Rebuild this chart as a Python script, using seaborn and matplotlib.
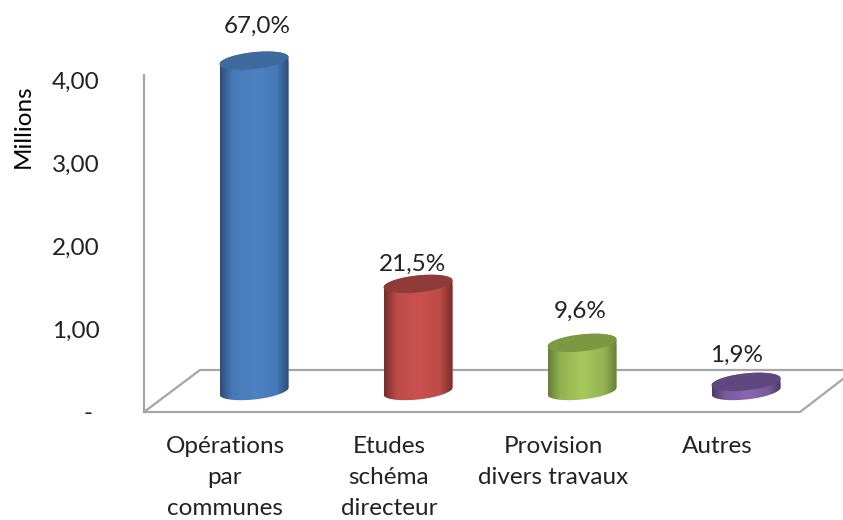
import matplotlib
matplotlib.use("Agg")
import matplotlib.pyplot as plt
import numpy as np
import seaborn as sns
from matplotlib.colors import LinearSegmentedColormap
from matplotlib.patches import Polygon
from matplotlib.path import Path

sns.set_style("white")
plt.rcParams["font.family"] = ["Lato", "DejaVu Sans"]

categories = ["Opérations\npar\ncommunes", "Etudes\nschéma\ndirecteur",
              "Provision\ndivers travaux", "Autres"]
values = [3.98, 1.29, 0.58, 0.11]
shares = ["67,0%", "21,5%", "9,6%", "1,9%"]
ytick_values = [0, 1, 2, 3, 4]
ytick_labels = ["- ", "1,00", "2,00", "3,00", "4,00"]

body_light = ["#4F82C3", "#CB524F", "#A6C95D", "#8A66B0"]
body_mid = ["#4579B8", "#BC4B48", "#93B251", "#7A5A9C"]
body_dark = ["#2F4E76", "#772E2C", "#66803A", "#4E3A68"]
top_colors = ["#3F6A9E", "#8F3B39", "#7C9842", "#5F4880"]
label_offsets = [(3, 34), (-5, 20), (-2, 32), (-9, 27)]

WIDTH, HEIGHT = 843, 520
AXIS_LEFT, FLOOR_Y = 144, 412
PX_PER_UNIT = 83
BAR_STEP = 164
FIRST_BAR = 254
BAR_WIDTH = 69
LABEL_SHIFT = 29 / BAR_STEP
BASE = 21 / PX_PER_UNIT  # cylinders stand in the middle of the floor
TILT = 3.5 / PX_PER_UNIT
MINOR = 8.5 / PX_PER_UNIT
TEXT_SIZE = 17.5
GREY = "#A6A6A6"


def px(x, y):
    return (x - FIRST_BAR) / BAR_STEP, (FLOOR_Y - y) / PX_PER_UNIT


def ellipse(cx, cy, a, start, stop):
    t = np.linspace(start, stop, 60)
    return np.column_stack([cx + a * np.cos(t), cy + MINOR * np.sin(t) + TILT * np.cos(t)])


def draw_cylinder(ax, bar, light, mid, dark, top):
    a = bar.get_width() / 2
    cx = bar.get_x() + a
    y0 = bar.get_y()
    y1 = y0 + bar.get_height()

    outline = np.vstack([ellipse(cx, y1, a, np.pi, 0), ellipse(cx, y0, a, 0, -np.pi)])
    body = Path(np.vstack([outline, outline[:1]]))
    bar.set_clip_path(body, ax.transData)

    stops = [(0, dark), (0.18, mid), (0.5, light), (0.82, mid), (1, dark)]
    cmap = LinearSegmentedColormap.from_list("body", stops)
    shade = np.linspace(0, 1, 120).reshape(1, -1)
    im = ax.imshow(shade, cmap=cmap, aspect="auto", zorder=3,
                   extent=(cx - a, cx + a, y0 - 0.2, y1 + 0.2))
    im.set_clip_path(body, ax.transData)

    ax.add_patch(Polygon(ellipse(cx, y1, a, 0, 2 * np.pi), facecolor=top,
                         edgecolor="none", zorder=4))


def main():
    fig, ax = plt.subplots(figsize=(WIDTH / 100, HEIGHT / 100), dpi=100)
    ax.set_position([AXIS_LEFT / WIDTH, 1 - FLOOR_Y / HEIGHT,
                     (WIDTH - AXIS_LEFT) / WIDTH, FLOOR_Y / HEIGHT])

    sns.barplot(x=categories, y=values, hue=categories, palette=body_light, legend=False,
                width=BAR_WIDTH / BAR_STEP, bottom=BASE, ax=ax)

    xlim = (px(AXIS_LEFT, 0)[0], px(WIDTH, 0)[0])
    ylim = (0, FLOOR_Y / PX_PER_UNIT)

    floor = [[(144, 412), (200, 370), (843, 370)], [(144, 412), (800, 412), (843, 379)]]
    for line in floor:
        xs, ys = zip(*[px(*p) for p in line])
        ax.plot(xs, ys, color=GREY, lw=1.6, zorder=0.5, clip_on=False, solid_joinstyle="miter")

    for bar, light, mid, dark, top, share, off in zip(ax.patches, body_light, body_mid, body_dark,
                                                      top_colors, shares, label_offsets):
        draw_cylinder(ax, bar, light, mid, dark, top)
        ax.annotate(share, (bar.get_x() + bar.get_width() / 2, bar.get_y() + bar.get_height()),
                    xytext=(off[0] * 0.72, off[1] * 0.72), textcoords="offset points",
                    ha="center", va="center", fontsize=TEXT_SIZE, color="#222222")

    ax.set_xlim(xlim)
    ax.set_ylim(ylim)

    sns.despine(ax=ax, left=False, bottom=True)
    ax.spines["left"].set_bounds(0, (FLOOR_Y - 75) / PX_PER_UNIT)
    ax.spines["left"].set_color(GREY)
    ax.spines["left"].set_linewidth(1.6)

    ax.set_yticks(ytick_values, ytick_labels, fontsize=TEXT_SIZE, color="#222222")
    ax.tick_params(axis="y", length=0, pad=32)
    ax.tick_params(axis="x", length=0, pad=17)
    ax.set_xticks(np.arange(len(categories)) - LABEL_SHIFT, categories, fontsize=TEXT_SIZE,
                  color="#222222", linespacing=1.6)

    ax.set_ylabel("Millions", fontsize=TEXT_SIZE, color="black")
    ax.yaxis.set_label_coords((34 - AXIS_LEFT) / (WIDTH - AXIS_LEFT), (FLOOR_Y - 126) / FLOOR_Y)
    ax.set_xlabel("")

    plt.savefig("out.png", dpi=100)
    plt.close()


if __name__ == "__main__":
    main()
